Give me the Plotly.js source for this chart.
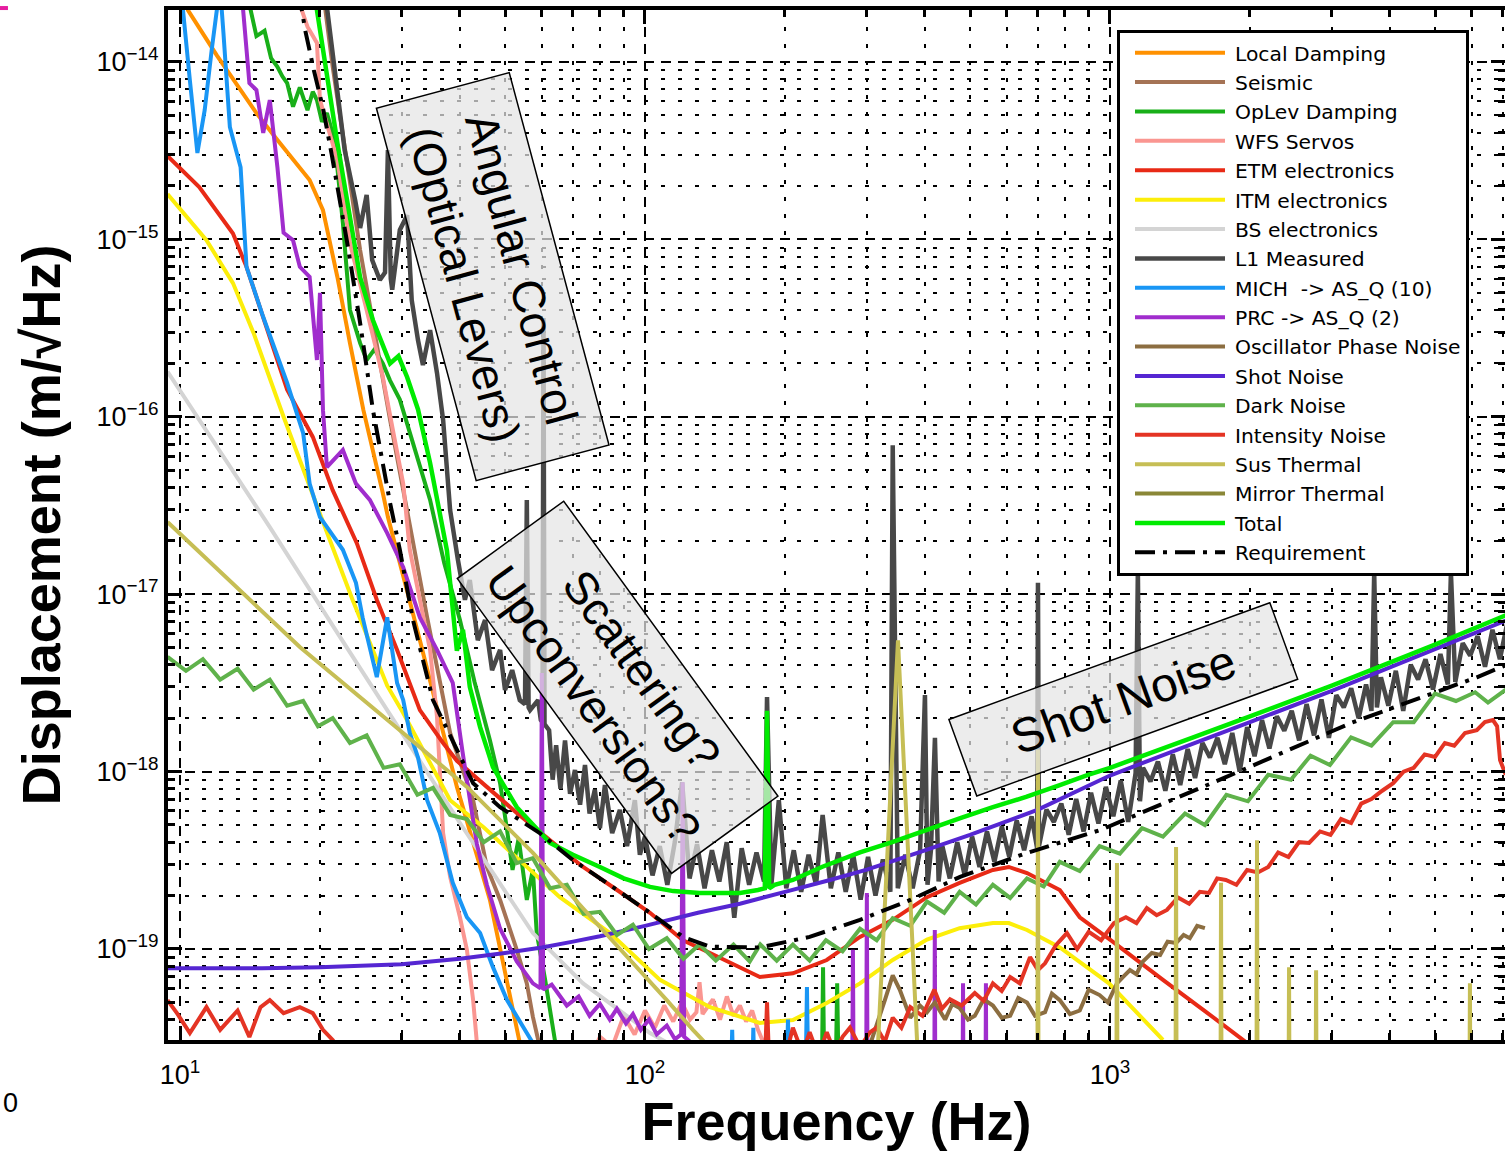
<!DOCTYPE html>
<html><head><meta charset="utf-8">
<script src="https://cdn.plot.ly/plotly-3.0.1.min.js"></script>
<style>html,body{margin:0;padding:0;background:#fff;overflow:hidden}#chart{width:1505px;height:1152px}</style>
</head><body><div id="chart"></div>
<script>
// ---------- data (frequency in Hz, displacement in m/rtHz) ----------
const fLocal = [10.2, 10.4, 12.0, 14.6, 16.2, 19.0, 20.3, 21.8, 23.2, 24.8, 27.3, 28.0, 32.8, 39.4, 46.4, 53.8, 58];
const vLocal = [2.4e-14, 1.96e-14, 1.09e-14, 5.15e-15, 3.63e-15, 2.16e-15, 1.46e-15, 6.14e-16, 2.6e-16, 1.09e-16, 3.72e-17, 2.72e-17, 5.5e-18, 8.2e-19, 1.89e-19, 2.95e-20, 1.5e-20];

const fSeismic = [20.3, 21.3, 24.4, 28.3, 34.0, 38.1, 42.7, 45.7, 48.8, 53.0, 55.7, 57.4, 60];
const vSeismic = [2.5e-14, 9.4e-15, 8.7e-16, 9.6e-17, 7.4e-18, 1.65e-18, 6.9e-19, 2.9e-19, 1.89e-19, 9.9e-20, 6.4e-20, 4.14e-20, 2.5e-20];

const fOplev = [14.0, 14.6, 15.2, 15.7, 16.2, 16.6, 17.0, 17.5, 18.1, 18.8, 19.3, 19.7, 20.2, 20.7, 21.5, 22.4, 23.2, 24.4, 25.2, 26.2, 27.3, 28.3, 29.7, 31.5, 34.5, 37.0, 40, 43, 46.4, 48.8, 50.5, 51.9, 53.5, 55.7, 57.4, 58.5, 61, 64, 70, 150, 240, 241.5, 243, 257, 259, 261, 300];
const vOplev = [2.3e-14, 1.4e-14, 1.5e-14, 1.05e-14, 9.4e-15, 8.3e-15, 7.6e-15, 5.6e-15, 7.2e-15, 5.35e-15, 6.8e-15, 6.1e-15, 4.6e-15, 5.15e-15, 3.63e-15, 1.24e-15, 4.0e-16, 2.6e-16, 2.09e-16, 2.4e-16, 2.0e-16, 1.6e-16, 1.25e-16, 7.5e-17, 3.4e-17, 1.5e-17, 7.15e-18, 3.2e-18, 1.5e-18, 8.6e-19, 4.7e-19, 2.79e-19, 4.2e-19, 1.89e-19, 2.8e-19, 1.23e-19, 6.7e-20, 3.07e-20, 2e-20, 1.8e-20, 1.8e-20, 7.9e-20, 1.8e-20, 1.8e-20, 6.4e-20, 1.8e-20, 1.5e-20];

const fWfs = [17.9, 18.8, 19.7, 20.0, 21.8, 23.2, 25.2, 27.3, 28.7, 30.2, 31.2, 32.8, 34.5, 35.7, 36.8, 38.1, 40.0, 41.4, 42.7, 43.5, 45, 60, 75, 80, 85, 90, 95, 100, 105, 110, 115, 120, 125, 129, 131, 133, 140, 145, 150, 155, 160, 165, 170, 175, 185, 200];
const vWfs = [2.3e-14, 1.58e-14, 1.28e-14, 6.1e-15, 2.8e-15, 9.5e-16, 4.0e-16, 1.68e-16, 8.4e-17, 4.2e-17, 1.78e-17, 9.3e-18, 4.85e-18, 2.04e-18, 4.5e-19, 2.55e-19, 1.51e-19, 9.9e-20, 5.15e-20, 2.95e-20, 1.8e-20, 1.8e-20, 2.2e-20, 3.2e-20, 2.8e-20, 4.2e-20, 3.3e-20, 4.5e-20, 3.6e-20, 4.8e-20, 3.9e-20, 5.0e-20, 4.0e-20, 4.4e-20, 6.5e-20, 4.3e-20, 5.2e-20, 4.0e-20, 5.4e-20, 4.2e-20, 4.8e-20, 3.9e-20, 4.5e-20, 3.5e-20, 2.5e-20, 1.5e-20];

const fEtm = [9.4, 11.0, 13.0, 13.9, 17.0, 19.3, 21.3, 24.0, 26.5, 29.3, 32.8, 36.8, 39.4, 45.7, 53.0, 62.5, 73.6, 87.1, 102.5, 120.7, 138, 176.6, 208, 246, 290, 341, 404, 475, 560, 606, 663, 780, 861, 1000, 1300, 1600, 1972, 2300];
const vEtm = [2.95e-15, 1.97e-15, 1.08e-15, 7.0e-16, 1.42e-16, 7.7e-17, 3.86e-17, 1.94e-17, 9.3e-18, 4.85e-18, 2.22e-18, 1.45e-18, 1.15e-18, 8.2e-19, 5.85e-19, 4.1e-19, 2.9e-19, 2.15e-19, 1.6e-19, 1.12e-19, 9.5e-20, 6.95e-20, 7.3e-20, 8.67e-20, 1.17e-19, 1.46e-19, 1.96e-19, 2.36e-19, 2.79e-19, 2.9e-19, 2.68e-19, 2.15e-19, 1.51e-19, 1.13e-19, 6.7e-20, 4.47e-20, 2.95e-20, 2.2e-20];

const fItm = [9.4, 11.4, 13.0, 14.4, 16.7, 21.0, 23.5, 27.9, 30.2, 38.1, 44.9, 65.6, 84.1, 107.7, 138, 176.6, 208, 246, 290, 341, 404, 475, 560, 606, 663, 780, 995, 1300];
const vItm = [1.8e-15, 9.9e-16, 5.67e-16, 2.96e-16, 1.0e-16, 2.02e-17, 9.3e-18, 3.05e-18, 2.14e-18, 6.9e-19, 4.87e-19, 1.96e-19, 1.23e-19, 6.7e-20, 4.7e-20, 3.83e-20, 3.98e-20, 4.96e-20, 6.4e-20, 8.67e-20, 1.13e-19, 1.31e-19, 1.4e-19, 1.4e-19, 1.28e-19, 1.02e-19, 6.4e-20, 3.07e-20];

const fBs = [9.4, 15.6, 21.8, 27.9, 40.0, 57.4, 73.6, 102.5, 119];
const vBs = [1.8e-16, 2.39e-17, 6.05e-18, 2.22e-18, 5.13e-19, 1.23e-19, 6.4e-20, 3.36e-20, 2.7e-20];

const fL1 = [20.5, 22.6, 23.8, 24.4, 25.2, 25.9, 26.9, 27.6, 28.0, 28.4, 28.6, 29.7, 30.8, 31.5, 32.5, 33.3, 34.5, 35.7, 36.8, 38.1, 39.6, 41.0, 42.0, 43.7, 45.3, 46.9, 48.8, 50.0, 51.8, 53.8, 55.2, 55.7, 56.2, 56.6, 58.9, 59.7, 60.2, 60.5, 60.8, 62.2, 63.3, 64.4, 65.8, 67.3, 69, 70.7, 72.5, 74.3, 76, 78.0, 80, 82.0, 85, 88.3, 91.5, 95.1, 97.5,
  100, 103.8, 107.6, 111.7, 115.9, 120.2, 124.7, 129.4, 134.3, 139.3, 144.5, 149.9, 155.6, 161.4, 167.5, 173.7, 180.3, 183, 187, 194, 201.3, 208.9, 216.7, 224.8, 233.3, 241, 251, 260.5, 270.2, 280.4, 290.9, 301.8, 313.1, 324.8, 337, 341, 349.7, 362.8, 376.4, 390.5, 400, 405.1, 412, 420.3, 428, 436.1, 452.4, 469.4, 487, 505.2, 524.2, 543.8, 564.2, 585.4, 607.3, 630.1, 653.7, 678.2, 697, 700, 703.6, 730, 757.4, 785.8, 815.2, 845.8, 877.5, 910.4, 944.5, 979.9, 1016.7, 1054.8, 1094.3, 1135.3, 1148, 1160, 1177.9, 1222, 1267.9, 1315.4, 1364.7, 1415.9, 1469, 1524, 1581.2, 1640.5, 1702, 1765.8, 1832, 1900.7, 1972, 2045.9, 2122.6, 2202.2, 2284.8, 2370.5, 2459.4, 2551.6, 2647.3, 2746.6, 2849.6, 2956.4, 3067.3, 3182.3, 3301.6, 3425.4, 3553.9, 3650, 3700, 3750, 3825.5, 3969, 4117.8, 4272.2, 4432.4, 4598.6, 4771.1, 4950, 5135.6, 5328.2, 5410, 5528, 5735.3, 5950.4, 6173.5, 6405, 6645.2, 6894.4, 7153];
const vL1 = [2.5e-14, 3.19e-15, 1.67e-15, 1.16e-15, 1.78e-15, 7.65e-16, 5.9e-16, 6.5e-16, 3.19e-15, 6.0e-16, 5.2e-16, 1.13e-15, 1.37e-15, 4.55e-16, 2.7e-16, 1.96e-16, 3.08e-16, 1.77e-16, 9.6e-17, 2.98e-17, 1.56e-17, 9.3e-18, 1.2e-17, 5.5e-18, 7.15e-18, 3.73e-18, 4.85e-18, 2.88e-18, 3.73e-18, 2.53e-18, 2.4e-18, 3.4e-17, 2.3e-18, 2.22e-18, 2.53e-18, 1.95e-18, 1.9e-18, 3.6e-16, 1.85e-18, 1.71e-18, 9e-19, 1.41e-18, 8e-19, 1.5e-18, 7.5e-19, 1.02e-18, 6.5e-19, 1.09e-18, 5.8e-19, 7.9e-19, 4.8e-19, 8.4e-19, 4.5e-19, 6.08e-19, 3.8e-19, 6.9e-19, 3.4e-19,
  4.3e-19, 2.6e-19, 3.8e-19, 2.3e-19, 4.0e-19, 8.7e-19, 2.5e-19, 3.9e-19, 2.2e-19, 3.6e-19, 2.4e-19, 4.0e-19, 1.5e-19, 3.7e-19, 2.3e-19, 3.5e-19, 2.4e-19, 2.63e-18, 2.3e-19, 6.9e-19, 2.2e-19, 3.6e-19, 2.1e-19, 3.4e-19, 2.3e-19, 5.7e-19, 2.2e-19, 3.5e-19, 2.1e-19, 3.4e-19, 1.9e-19, 3.3e-19, 2.0e-19, 3.2e-19, 2.1e-19, 6.9e-17, 2.2e-19, 3.4e-19, 2.2e-19, 3.6e-19, 2.7e-18, 2.3e-19, 3.6e-19, 1.55e-18, 2.4e-19, 3.8e-19, 2.5e-19, 4.0e-19, 2.6e-19, 4.3e-19, 2.9e-19, 4.6e-19, 3.1e-19, 4.9e-19, 3.3e-19, 5.3e-19, 3.6e-19, 5.6e-19, 3.7e-19, 1.16e-17, 3.8e-19, 6.1e-19, 5.2e-19, 6.6e-19, 4.4e-19, 7.0e-19, 4.6e-19, 7.6e-19, 5.1e-19, 8.2e-19, 5.6e-19, 8.9e-19, 5.2e-19, 9.8e-19, 1.37e-17, 6.8e-19, 1.05e-18, 8.8e-19, 1.14e-18, 7.8e-19, 1.25e-18, 8.4e-19, 1.34e-18, 9.2e-19, 1.45e-18, 1.2e-18, 1.55e-18, 1.1e-18, 1.65e-18, 1.0e-18, 1.78e-18, 1.22e-18, 1.95e-18, 1.35e-18, 2.05e-18, 1.7e-18, 2.2e-18, 1.5e-18, 2.4e-18, 1.6e-18, 2.55e-18, 1.55e-18, 2.7e-18, 2.3e-18, 2.95e-18, 2.0e-18, 3.1e-18, 2.2e-18, 1.32e-17, 2.3e-18, 3.4e-18, 2.35e-18, 3.7e-18, 2.2e-18, 4.0e-18, 3.3e-18, 4.3e-18, 2.9e-18, 4.6e-18, 3.1e-18, 1.32e-17, 3.2e-18, 5.3e-18, 4.5e-18, 5.8e-18, 3.9e-18, 6.3e-18, 4.3e-18, 6.9e-18];

const fMich = [10.0, 10.15, 10.5, 10.9, 11.3, 11.7, 12.0, 12.2, 12.4, 12.8, 13.5, 13.9, 15.1, 17.0, 18.4, 19.0, 20.0, 22.4, 23.9, 24.7, 26.5, 27.9, 29.3, 30.2, 31.2, 32.5, 34.0, 36.2, 38.6, 41.4, 44.2, 47.1, 50.5, 55.7, 57.4, 61, 140, 153, 154, 155, 170, 171, 172, 201.5, 203, 204.5, 221.5, 223, 224.5, 300];
const vMich = [2.6e-14, 1.96e-14, 7.9e-15, 3.07e-15, 5.35e-15, 1.17e-14, 1.96e-14, 2.6e-14, 1.46e-14, 4.3e-15, 2.55e-15, 7.0e-16, 3.65e-16, 1.55e-16, 8.1e-17, 4.2e-17, 2.72e-17, 1.78e-17, 1.16e-17, 7.4e-18, 3.41e-18, 7.4e-18, 3.16e-18, 2.53e-18, 1.65e-18, 1.2e-18, 6.9e-19, 4.5e-19, 2.36e-19, 1.51e-19, 1.23e-19, 7.9e-20, 5.15e-20, 3.36e-20, 2.95e-20, 2.4e-20, 1.8e-20, 1.8e-20, 3.5e-20, 1.8e-20, 1.8e-20, 3.6e-20, 1.8e-20, 1.8e-20, 4e-20, 1.8e-20, 1.8e-20, 6.1e-20, 1.8e-20, 1.5e-20];

const fPrc = [13.6, 14.1, 14.6, 15.1, 15.6, 16.2, 16.7, 17.5, 18.1, 19.0, 19.7, 20.0, 20.3, 20.7, 22.4, 23.9, 25.6, 27.9, 30.2, 32.8, 35.7, 38.6, 40.5, 42.0, 43.5, 45.7, 48.8, 53.0, 57.4, 59.6, 60.0, 60.4, 63, 67.9, 72, 76, 80, 84, 87, 91, 94.2, 98, 102, 106, 111.4, 116, 119.6, 120.5, 121.4, 127, 135, 150, 200, 279, 280, 281, 299, 300, 301, 419, 420, 421, 482, 483, 484, 540, 541, 542, 600];
const vPrc = [2.3e-14, 7.6e-15, 6.95e-15, 3.98e-15, 6.1e-15, 2.55e-15, 1.09e-15, 9.9e-16, 7.0e-16, 6.14e-16, 2.09e-16, 5.0e-16, 1.09e-16, 5.2e-17, 6.5e-17, 4.2e-17, 3.4e-17, 2.21e-17, 1.42e-17, 7.4e-18, 4.85e-18, 3.16e-18, 1.3e-18, 7.0e-19, 3.9e-19, 2.3e-19, 1.3e-19, 8.5e-20, 6.4e-20, 6.0e-20, 3.6e-18, 5.9e-20, 6.3e-20, 4.8e-20, 5.4e-20, 4.2e-20, 4.9e-20, 4.0e-20, 4.6e-20, 3.8e-20, 4.3e-20, 3.5e-20, 4.0e-20, 3.3e-20, 3.7e-20, 3.1e-20, 3.3e-20, 8.7e-19, 3.2e-20, 2.9e-20, 2.5e-20, 2.2e-20, 1.8e-20, 1.8e-20, 9.9e-20, 1.8e-20, 1.8e-20, 2.07e-19, 1.8e-20, 1.8e-20, 1.28e-19, 1.8e-20, 1.8e-20, 6.4e-20, 1.8e-20, 1.8e-20, 6.4e-20, 1.8e-20, 1.5e-20];

const fOsc = [305, 328, 341, 353, 372, 390, 404, 420, 442, 458, 475, 495, 512, 535, 560, 585, 610, 635, 663, 690, 725, 750, 780, 820, 861, 900, 950, 990, 1035, 1070, 1104, 1140, 1172, 1230, 1282, 1330, 1387, 1440, 1485, 1540, 1600];
const vOsc = [2.9e-20, 5.15e-20, 7.1e-20, 5.9e-20, 4.1e-20, 4.8e-20, 4.4e-20, 5.0e-20, 4.0e-20, 4.9e-20, 4.65e-20, 4.0e-20, 4.2e-20, 5.2e-20, 4.8e-20, 4.1e-20, 4.2e-20, 5.3e-20, 5.0e-20, 4.2e-20, 4.4e-20, 5.6e-20, 5.15e-20, 4.3e-20, 4.5e-20, 5.9e-20, 5.5e-20, 5.0e-20, 6.4e-20, 7.0e-20, 7.6e-20, 7.2e-20, 8.4e-20, 9.5e-20, 9.25e-20, 1.1e-19, 1.08e-19, 1.2e-19, 1.15e-19, 1.35e-19, 1.31e-19];

const fShot = [9.4, 15, 20, 30, 40, 50, 60, 70, 80, 100, 130, 160, 200, 250, 300, 400, 500, 700, 1000, 1500, 2000, 3000, 5000, 7100];
const vShot = [7.8e-20, 7.8e-20, 7.9e-20, 8.2e-20, 8.8e-20, 9.5e-20, 1.02e-19, 1.1e-19, 1.18e-19, 1.35e-19, 1.6e-19, 1.8e-19, 2.1e-19, 2.45e-19, 2.8e-19, 3.6e-19, 4.4e-19, 6.1e-19, 9.5e-19, 1.43e-18, 1.9e-18, 2.85e-18, 4.9e-18, 7.1e-18];

const fDark = [9.4, 10.3, 11.2, 12.2, 13.3, 14.4, 15.6, 17.0, 18.4, 19.8, 21.3, 23.2, 25.2, 27.4, 29.7, 32.4, 35.0, 38.1, 41.4, 45.0, 48.8, 53.0, 57.4, 62.5, 67.9, 73.8, 80, 87, 94.2, 102, 111.4, 121, 131, 142, 155, 168, 177, 192, 208, 226, 245, 266, 290, 315, 341, 372, 404, 440, 475, 515, 560, 610, 663, 720, 780, 861, 950, 1050, 1172, 1300, 1450, 1600, 1780, 1980, 2190, 2450, 2700, 2972, 3300, 3650, 4064, 4500, 5000, 5547, 6100, 6500, 7100];
const vDark = [4.43e-18, 3.7e-18, 4.3e-18, 3.3e-18, 3.8e-18, 2.9e-18, 3.3e-18, 2.35e-18, 2.5e-18, 1.8e-18, 2.0e-18, 1.45e-18, 1.6e-18, 1.05e-18, 1.1e-18, 7.4e-19, 8.1e-19, 5.7e-19, 5.4e-19, 4.0e-19, 4.6e-19, 3.05e-19, 3.25e-19, 2.2e-19, 2.3e-19, 1.58e-19, 1.62e-19, 1.2e-19, 1.37e-19, 1.0e-19, 1.15e-19, 8.8e-20, 1.06e-19, 8.6e-20, 1.06e-19, 8.5e-20, 1.06e-19, 8.6e-20, 1.06e-19, 8.6e-20, 1.12e-19, 9.7e-20, 1.3e-19, 1.12e-19, 1.49e-19, 1.35e-19, 1.85e-19, 1.6e-19, 2.1e-19, 1.78e-19, 2.3e-19, 1.94e-19, 2.5e-19, 2.25e-19, 3.1e-19, 2.75e-19, 3.8e-19, 3.45e-19, 4.8e-19, 4.3e-19, 5.8e-19, 5.0e-19, 7.4e-19, 6.8e-19, 9.6e-19, 9.0e-19, 1.23e-18, 1.09e-18, 1.56e-18, 1.4e-18, 1.9e-18, 1.9e-18, 2.75e-18, 2.5e-18, 2.8e-18, 2.45e-18, 2.9e-18];

const fInt = [9.4, 9.85, 10.5, 11.4, 12.2, 13.3, 14.1, 14.9, 15.6, 16.7, 18.1, 19.3, 20.3, 21.3, 22.5, 30, 100, 178, 181, 183, 185, 190, 200, 208, 218, 226, 236, 246, 256, 266, 276, 290, 305, 315, 328, 341, 356, 372, 395, 419, 435, 453, 480, 512, 535, 560, 585, 610, 640, 673, 700, 725, 765, 808, 850, 900, 957, 1020, 1082, 1140, 1200, 1260, 1326, 1400, 1480, 1560, 1633, 1700, 1775, 1870, 1972, 2080, 2190, 2300, 2420, 2550, 2680, 2830, 2980, 3140, 3300, 3470, 3650, 3850, 4064, 4280, 4500, 4750, 5000, 5250, 5500, 5800, 6150, 6400, 6660, 6800, 6900, 7100];
const vInt = [5.15e-20, 4.35e-20, 3.36e-20, 4.7e-20, 3.5e-20, 4.5e-20, 3.19e-20, 4.7e-20, 5.15e-20, 4.35e-20, 4.7e-20, 4.35e-20, 3.5e-20, 3.07e-20, 2.5e-20, 1.5e-20, 1.5e-20, 1.8e-20, 2.2e-20, 5.0e-20, 2.2e-20, 3.0e-20, 2.4e-20, 3.6e-20, 2.6e-20, 3.4e-20, 2.5e-20, 3.4e-20, 2.6e-20, 3.2e-20, 3.6e-20, 2.8e-20, 3.4e-20, 3.6e-20, 3.0e-20, 4.1e-20, 3.6e-20, 4.7e-20, 4.2e-20, 5.9e-20, 4.6e-20, 5.2e-20, 4.8e-20, 5.65e-20, 5.1e-20, 6.4e-20, 5.8e-20, 6.95e-20, 6.4e-20, 9.0e-20, 7.6e-20, 8.3e-20, 1.05e-19, 1.23e-19, 1.0e-19, 1.25e-19, 1.12e-19, 1.4e-19, 1.51e-19, 1.4e-19, 1.7e-19, 1.55e-19, 1.66e-19, 1.95e-19, 1.8e-19, 2.1e-19, 2.07e-19, 2.5e-19, 2.45e-19, 2.3e-19, 2.79e-19, 2.7e-19, 2.9e-19, 3.5e-19, 3.3e-19, 4.0e-19, 3.96e-19, 4.6e-19, 4.4e-19, 5.4e-19, 5.13e-19, 6.6e-19, 7.0e-19, 7.8e-19, 8.6e-19, 1.0e-18, 1.05e-18, 1.25e-18, 1.21e-18, 1.45e-18, 1.4e-18, 1.65e-18, 1.71e-18, 1.9e-18, 1.95e-18, 1.8e-18, 1.16e-18, 9.6e-19];

const fSus = [9.4, 18.1, 29.7, 41.4, 57.4, 80.0, 111.4, 126.8, 138, 200, 317, 350, 385, 600, 698, 700, 702, 1032, 1035, 1038, 1383, 1387, 1391, 1728, 1733, 1738, 2065, 2071, 2077, 2420, 2427, 2434, 2767, 2775, 2783, 5926, 5944, 5962, 7100];
const vSus = [2.55e-17, 5.04e-18, 1.71e-18, 8.2e-19, 3.48e-19, 1.33e-19, 5.15e-20, 3.5e-20, 2.77e-20, 1.2e-20, 2.9e-20, 5.5e-18, 2.9e-20, 1e-20, 1e-20, 1.33e-18, 1e-20, 1e-20, 3.05e-19, 1e-20, 1e-20, 3.76e-19, 1e-20, 1e-20, 2.36e-19, 1e-20, 1e-20, 4.1e-19, 1e-20, 1e-20, 7.9e-20, 1e-20, 1e-20, 7.6e-20, 1e-20, 1e-20, 6.4e-20, 1e-20, 1e-20];

const fMirror = [9.4, 100, 1000, 7100];
const vMirror = [2.4e-20, 1.9e-20, 1.5e-20, 1.3e-20];

const fTotal = [19.5, 19.7, 21.8, 24.4, 26.0, 28.3, 29.5, 30.8, 32.5, 34.5, 37.5, 39.4, 40.6, 42.0, 44.2, 47.1, 53, 62.5, 70, 80, 90, 102.5, 115, 131, 145, 160, 175, 181, 183, 185, 190, 208, 240, 290, 340, 404, 480, 560, 660, 780, 900, 1000, 1500, 2000, 3000, 5000, 7100];
const vTotal = [3e-14, 1.96e-14, 3.5e-15, 6.1e-16, 3.5e-16, 2.0e-16, 2.2e-16, 1.67e-16, 1.1e-16, 5.5e-17, 1.77e-17, 4.8e-18, 6.3e-18, 3.0e-18, 1.78e-18, 1.06e-18, 6.3e-19, 3.96e-19, 3.4e-19, 2.9e-19, 2.5e-19, 2.24e-19, 2.12e-19, 2.07e-19, 2.07e-19, 2.07e-19, 2.15e-19, 2.2e-19, 2.2e-18, 2.2e-19, 2.3e-19, 2.45e-19, 2.9e-19, 3.5e-19, 4.0e-19, 4.7e-19, 5.5e-19, 6.3e-19, 7.2e-19, 8.4e-19, 9.6e-19, 1.05e-18, 1.55e-18, 2.05e-18, 3.05e-18, 5.2e-18, 7.6e-18];

const fReq = [18.0, 18.6, 19.4, 20.3, 21.2, 22.9, 24.4, 26.0, 28.3, 29.7, 31.7, 35.0, 39.4, 42.7, 48.8, 59.4, 70.0, 87.1, 102.5, 120.7, 138, 176.6, 226, 290, 372, 476, 663, 957, 1775, 3300, 6150, 7100];
const vReq = [2.5e-14, 1.5e-14, 9e-15, 5.5e-15, 3.0e-15, 9.5e-16, 3.38e-16, 1.09e-16, 3.27e-17, 1.78e-17, 7.15e-18, 2.53e-18, 1.33e-18, 8.6e-19, 6.3e-19, 4.5e-19, 3.17e-19, 2.15e-19, 1.6e-19, 1.17e-19, 1.03e-19, 1.02e-19, 1.17e-19, 1.46e-19, 1.89e-19, 2.55e-19, 3.48e-19, 4.7e-19, 9.3e-19, 1.88e-18, 3.4e-18, 3.98e-18];

const xTickVals = [10, 100, 1000];
const xTickText = ['10<sup>1</sup>', '10<sup>2</sup>', '10<sup>3</sup>'];
const yTickVals = [1e-19, 1e-18, 1e-17, 1e-16, 1e-15, 1e-14];
const yTickText = ['10<sup>\u221219</sup>', '10<sup>\u221218</sup>', '10<sup>\u221217</sup>', '10<sup>\u221216</sup>', '10<sup>\u221215</sup>', '10<sup>\u221214</sup>'];

// ---------- traces ----------
const series = [
  {name: 'Local Damping', x: fLocal, y: vLocal, color: 'rgb(255,145,0)'},
  {name: 'Seismic', x: fSeismic, y: vSeismic, color: 'rgb(165,115,85)'},
  {name: 'OpLev Damping', x: fOplev, y: vOplev, color: 'rgb(25,175,25)'},
  {name: 'WFS Servos', x: fWfs, y: vWfs, color: 'rgb(250,150,145)'},
  {name: 'ETM electronics', x: fEtm, y: vEtm, color: 'rgb(232,42,22)'},
  {name: 'ITM electronics', x: fItm, y: vItm, color: 'rgb(252,238,10)'},
  {name: 'BS electronics', x: fBs, y: vBs, color: 'rgb(212,212,212)'},
  {name: 'L1 Measured', x: fL1, y: vL1, color: 'rgb(72,72,72)', width: 4.5},
  {name: 'MICH  -> AS_Q (10)', x: fMich, y: vMich, color: 'rgb(25,150,245)'},
  {name: 'PRC -> AS_Q (2)', x: fPrc, y: vPrc, color: 'rgb(160,45,205)'},
  {name: 'Oscillator Phase Noise', x: fOsc, y: vOsc, color: 'rgb(140,110,65)'},
  {name: 'Shot Noise', x: fShot, y: vShot, color: 'rgb(85,38,210)'},
  {name: 'Dark Noise', x: fDark, y: vDark, color: 'rgb(95,178,75)'},
  {name: 'Intensity Noise', x: fInt, y: vInt, color: 'rgb(228,52,36)'},
  {name: 'Sus Thermal', x: fSus, y: vSus, color: 'rgb(198,190,85)'},
  {name: 'Mirror Thermal', x: fMirror, y: vMirror, color: 'rgb(138,135,55)'},
  {name: 'Total', x: fTotal, y: vTotal, color: 'rgb(0,235,0)', width: 4.5},
  {name: 'Requirement', x: fReq, y: vReq, color: 'black', dash: '20px,8px,4px,8px'}
];
const traces = series.map(s => ({
  type: 'scatter', mode: 'lines', name: s.name, x: s.x, y: s.y,
  line: {color: s.color, width: s.width || 4, dash: s.dash || 'solid', simplify: false},
  hoverinfo: 'skip'
}));

const axisCommon = {
  type: 'log', ticks: 'inside', ticklen: 14, tickwidth: 3, tickcolor: 'black',
  showline: true, linewidth: 4, linecolor: 'black', mirror: 'allticks',
  showgrid: true, gridcolor: 'black', gridwidth: 2, griddash: '10px,7px', zeroline: false,
  tickfont: {family: 'Liberation Sans, Arial, sans-serif', size: 27, color: 'black'},
  minor: {dtick: 'D1', ticks: 'inside', ticklen: 7, tickwidth: 3, tickcolor: 'black',
          showgrid: true, gridcolor: 'black', gridwidth: 2, griddash: '4px,13px'}
};

const boxStyle = {xref: 'paper', yref: 'paper', showarrow: false, xanchor: 'center', yanchor: 'middle',
  bgcolor: 'rgba(228,228,228,0.72)', bordercolor: 'black', borderwidth: 1.5, borderpad: 0, align: 'center',
  font: {family: 'Liberation Sans, Arial, sans-serif', size: 46, color: 'black'}};

const layout = {
  width: 1505, height: 1152,
  margin: {l: 168, r: 0, t: 10, b: 112, pad: 0},
  paper_bgcolor: 'white', plot_bgcolor: 'white',
  font: {family: 'Liberation Sans, Arial, sans-serif', color: 'black'},
  showlegend: true,
  legend: {x: 0.7098, y: 0.9806, xanchor: 'left', yanchor: 'top', bgcolor: 'white',
           bordercolor: 'black', borderwidth: 3, itemwidth: 105, traceorder: 'normal',
           font: {family: 'DejaVu Sans', size: 20.3, color: 'black'}},
  xaxis: Object.assign({}, axisCommon, {
    range: [0.9742, 3.8495], tickmode: 'array', tickvals: xTickVals, ticktext: xTickText,
    ticklabelstandoff: 8,
    title: {text: 'Frequency (Hz)', standoff: 14, font: {family: 'Liberation Sans, Arial, sans-serif', size: 54, weight: 'bold', color: 'black'}}
  }),
  yaxis: Object.assign({}, axisCommon, {
    range: [-19.513, -13.707], tickmode: 'array', tickvals: yTickVals, ticktext: yTickText,
    title: {text: 'Displacement (m/\u221AHz)', standoff: 20, font: {family: 'Liberation Sans, Arial, sans-serif', size: 54, weight: 'bold', color: 'black'}}
  }),
  annotations: [
    Object.assign({}, boxStyle, {x: 0.2431, y: 0.7417, text: 'Angular Control<br>(Optical Levers)', textangle: 75, width: 384, height: 136}),
    Object.assign({}, boxStyle, {x: 0.3366, y: 0.3427, text: 'Scattering?<br>Upconversions?', textangle: 54, width: 363, height: 130}),
    Object.assign({}, boxStyle, {x: 0.7143, y: 0.3301, text: 'Shot Noise', textangle: -20, width: 340, height: 80, font: {family: 'Liberation Sans, Arial, sans-serif', size: 48, color: 'black'}}),
    {xref: 'paper', yref: 'paper', x: -0.1175, y: -0.0612, text: '0', showarrow: false, xanchor: 'center', yanchor: 'middle',
     font: {family: 'Liberation Sans, Arial, sans-serif', size: 27, color: 'black'}}
  ],
  shapes: [
    {type: 'line', xref: 'paper', yref: 'paper', x0: -0.1257, x1: -0.1197, y0: 1.0019, y1: 1.0019,
     line: {color: 'rgb(230,30,160)', width: 4}}
  ]
};

Plotly.newPlot('chart', traces, layout, {staticPlot: true, displayModeBar: false}).then(function (gd) {
  gd.querySelectorAll('.legend path.js-line').forEach(function (p) { p.setAttribute('d', 'M15,0h90'); });
});
</script>
</body></html>
